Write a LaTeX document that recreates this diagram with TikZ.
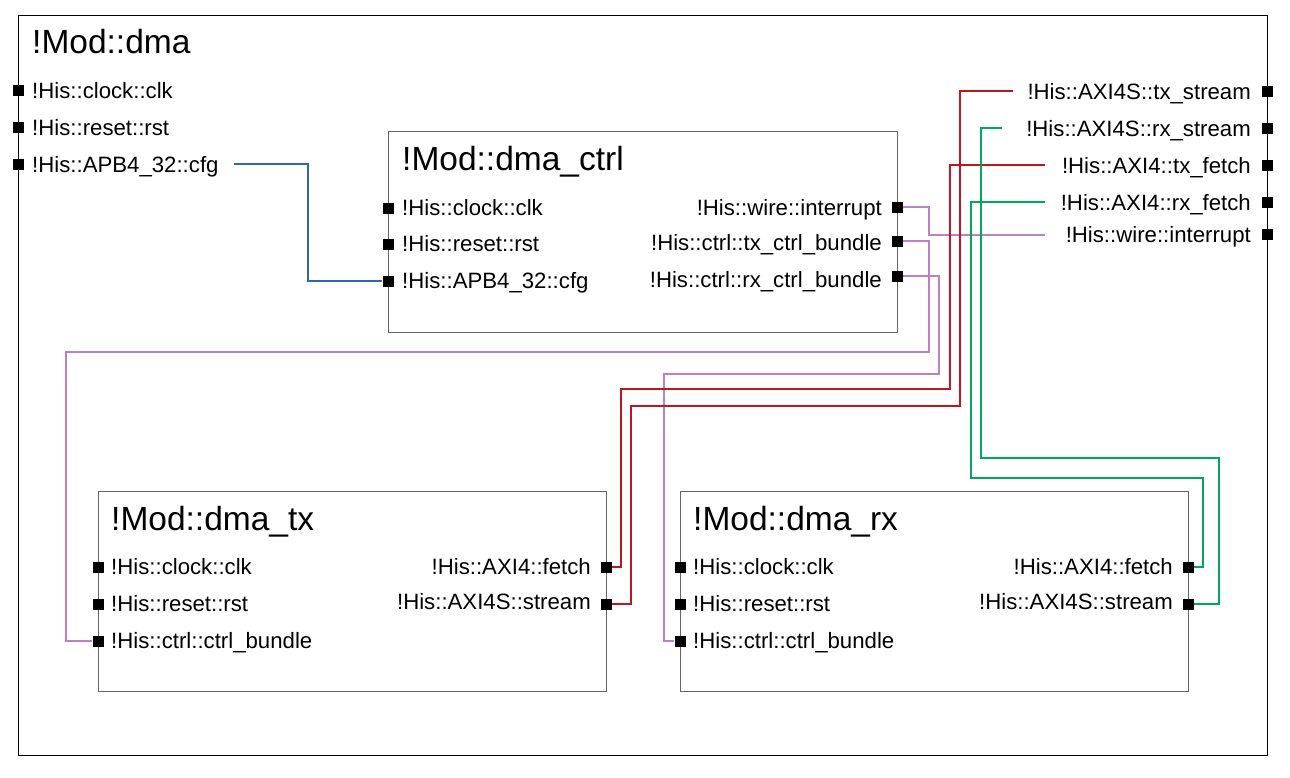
\documentclass[tikz,border=0pt]{standalone}
\usepackage{fontspec}
\setmainfont{Liberation Sans}
\newcommand\lblfont{\fontsize{22.2}{26}\selectfont}
\newcommand\ttlfont{\fontsize{33.5}{40}\selectfont}
\definecolor{wblue}{RGB}{52,101,164}
\definecolor{wpurple}{RGB}{192,128,192}
\definecolor{wred}{RGB}{192,20,30}
\definecolor{wgreen}{RGB}{0,168,90}
\definecolor{bord}{RGB}{100,100,100}
\tikzset{
  port/.style={fill=black,draw=none,inner sep=0pt,minimum size=11pt},
  lbl/.style={font=\lblfont,inner sep=0pt,anchor=base west},
  lblr/.style={font=\lblfont,inner sep=0pt,anchor=base east},
  ttl/.style={font=\ttlfont,inner sep=0pt,anchor=base west},
  modbox/.style={draw=bord,line width=1pt},
  topbox/.style={draw=black,line width=1pt},
  wire/.style={line width=2.8pt},
}
\begin{document}
\begin{tikzpicture}[x=1pt,y=-1pt]
\useasboundingbox (0,0) rectangle (1290,777);
% outer module
\draw[topbox] (18,15) rectangle (1267,755);
\node[ttl] (dmattl) at (32,53) {!Mod::dma};
\node[lbl] (dmaclkl) at (32,98) {!His::clock::clk};
\node[lbl] (dmarstl) at (32,135) {!His::reset::rst};
\node[lbl] (dmacfgl) at (32,172) {!His::APB4\_32::cfg};
\node[lblr] (dmatxsl) at (1251,99) {!His::AXI4S::tx\_stream};
\node[lblr] (dmarxsl) at (1251,136) {!His::AXI4S::rx\_stream};
\node[lblr] (dmatxfl) at (1251,173) {!His::AXI4::tx\_fetch};
\node[lblr] (dmarxfl) at (1251,210) {!His::AXI4::rx\_fetch};
\node[lblr] (dmaintl) at (1251,242) {!His::wire::interrupt};
\coordinate (cfgend) at (234,164);
\coordinate (txsend) at (1013,91);
\coordinate (rxsend) at (1002,128);
\coordinate (txfend) at (1045,165);
\coordinate (rxfend) at (1045,202);
\coordinate (intend) at (1045,235);
% dma_ctrl
\draw[modbox] (388,131) rectangle (897,332);
\node[ttl] (ctrlttl) at (402,170) {!Mod::dma\_ctrl};
\node[lbl] (ctrlclkl) at (402,215) {!His::clock::clk};
\node[lbl] (ctrlrstl) at (402,251) {!His::reset::rst};
\node[lbl] (ctrlcfgl) at (402,288) {!His::APB4\_32::cfg};
\node[lblr] (ctrlintl) at (882,215) {!His::wire::interrupt};
\node[lblr] (ctrltxl) at (882,250) {!His::ctrl::tx\_ctrl\_bundle};
\node[lblr] (ctrlrxl) at (882,287) {!His::ctrl::rx\_ctrl\_bundle};
% dma_tx
\draw[modbox] (98,491) rectangle (606,691);
\node[ttl] (txttl) at (111,530) {!Mod::dma\_tx};
\node[lbl] (txclkl) at (111,574) {!His::clock::clk};
\node[lbl] (txrstl) at (111,611) {!His::reset::rst};
\node[lbl] (txctrll) at (111,648) {!His::ctrl::ctrl\_bundle};
\node[lblr] (txfetchl) at (591,574) {!His::AXI4::fetch};
\node[lblr] (txstreaml) at (591,609) {!His::AXI4S::stream};
% dma_rx
\draw[modbox] (680,491) rectangle (1188,691);
\node[ttl] (rxttl) at (693,530) {!Mod::dma\_rx};
\node[lbl] (rxclkl) at (693,574) {!His::clock::clk};
\node[lbl] (rxrstl) at (693,611) {!His::reset::rst};
\node[lbl] (rxctrll) at (693,648) {!His::ctrl::ctrl\_bundle};
\node[lblr] (rxfetchl) at (1173,574) {!His::AXI4::fetch};
\node[lblr] (rxstreaml) at (1173,609) {!His::AXI4S::stream};
% ports
\node[port] (dmaclk) at (18,90) {};
\node[port] (dmarst) at (18,127) {};
\node[port] (dmacfg) at (18,164) {};
\node[port] (dmatxs) at (1267,91) {};
\node[port] (dmarxs) at (1267,128) {};
\node[port] (dmatxf) at (1267,165) {};
\node[port] (dmarxf) at (1267,202) {};
\node[port] (dmaint) at (1267,234) {};
\node[port] (ctrlclk) at (388,208) {};
\node[port] (ctrlrst) at (388,244) {};
\node[port] (ctrlcfg) at (388,281) {};
\node[port] (ctrlint) at (897,207) {};
\node[port] (ctrltx) at (897,241) {};
\node[port] (ctrlrx) at (897,276) {};
\node[port] (txclk) at (98,567) {};
\node[port] (txrst) at (98,604) {};
\node[port] (txctrl) at (98,641) {};
\node[port] (txfetch) at (606,567) {};
\node[port] (txstream) at (606,604) {};
\node[port] (rxclk) at (680,567) {};
\node[port] (rxrst) at (680,604) {};
\node[port] (rxctrl) at (680,641) {};
\node[port] (rxfetch) at (1188,567) {};
\node[port] (rxstream) at (1188,604) {};
% wires
\draw[wire,wblue] (cfgend) -| (308,281) -- (ctrlcfg.west);
\draw[wire,wpurple] (ctrlint.east) -| (929,235) -- (intend);
\draw[wire,wpurple] (ctrltx.east) -| (929,352) -| (66,641) -- (txctrl.west);
\draw[wire,wpurple] (ctrlrx.east) -| (939,374) -| (664,641) -- (rxctrl.west);
\draw[wire,wred] (txfend) -| (950,389) -| (621,567) -- (txfetch.east);
\draw[wire,wred] (txsend) -| (960,406) -| (631,604) -- (txstream.east);
\draw[wire,wgreen] (rxsend) -| (981,458) -| (1219,604) -- (rxstream.east);
\draw[wire,wgreen] (rxfend) -| (971,478) -| (1203,567) -- (rxfetch.east);
\end{tikzpicture}
\end{document}
